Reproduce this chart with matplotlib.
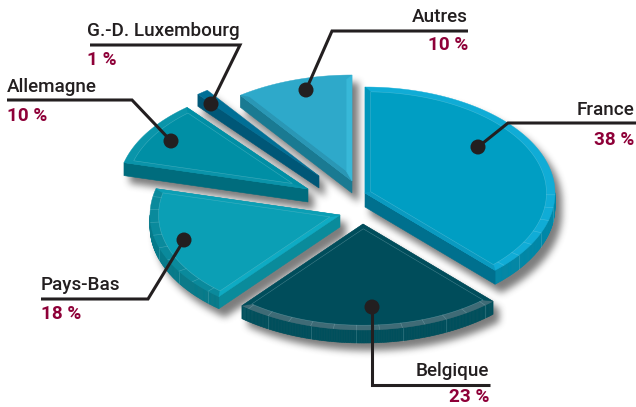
import numpy as np
import matplotlib
matplotlib.use("Agg")
import matplotlib.pyplot as plt
from matplotlib.patches import Polygon, Circle

# data
names = ["France", "Belgique", "Pays-Bas", "Allemagne", "G.-D. Luxembourg", "Autres"]
shares = [38, 23, 18, 10, 1, 10]
share_labels = ["38 %", "23 %", "18 %", "10 %", "1 %", "10 %"]

# layout, in pixels of the picture
apex_x = [365, 363, 340, 308, 319, 352]
apex_y = [193, 224, 215, 189, 176, 181]
depth = [14, 13, 12, 13, 12, 12]
RX, RY = 190, 106

# colours: top, arc band, start band, end band, arc side, radial side
colours = [
    ["#009ec3", "#10acd6", "#0096ba", "#0a9ac0", "#0088a8", "#00708e"],
    ["#004d5b", "#3f6b76", "#004d5b", "#004d5b", "#004f5c", "#004f5c"],
    ["#0b9fb5", "#0a8a9c", "#0eabc3", "#0b9fb5", "#067a8a", "#0a8b9b"],
    ["#008fa5", "#0a95aa", "#0a93a9", "#008fa5", "#00899e", "#006c7d"],
    ["#006f96", "#006f96", "#006f96", "#006f96", "#005f80", "#005777"],
    ["#2ea9ca", "#2ea9ca", "#2a97b5", "#38b8d8", "#1a7a92", "#1a7a92"],
]

# leader lines: dot, elbow, end, then text
dots = [(478, 147), (372, 307), (184, 240), (171, 141), (211, 104), (306, 90)]
elbows = [(508, 123), (372, 385), (148, 299), (132, 100), (240, 45), (332, 31)]
ends = [(636, 123), (490, 385), (41, 299), (7, 100), (90, 45), (468, 31)]
label_x = [634, 489, 41, 7, 87, 468]
label_y = [110, 371, 285, 87, 31, 17]
value_y = [140, 397, 314, 116, 60, 45]
aligns = ["right", "right", "left", "left", "left", "right"]

INK = "#231f20"
WINE = "#8e0038"
LINE = (0.75, 0.9, 0.93, 0.3)
plt.rcParams["font.family"] = ["Roboto", "DejaVu Sans"]


def to_px(u, cx, cy):
    return np.column_stack([cx + RX * u[:, 0], cy + RY * u[:, 1]])


def arc(t0, t1, r=1.0):
    t = np.radians(np.linspace(t0, t1, max(int(t1 - t0) * 2, 4)))
    return np.column_stack([r * np.sin(t), -r * np.cos(t)])


def inner_arc(t0, t1, apex, r):
    # rays from the shifted apex up to a circle of radius r
    t = np.radians(np.linspace(t0, t1, max(int(t1 - t0) * 2, 4)))
    d = np.column_stack([np.sin(t), -np.cos(t)])
    b = (d * apex).sum(axis=1)
    s = -b + np.sqrt(b ** 2 - (apex ** 2).sum() + r ** 2)
    return apex + d * s[:, None]


def blur(a, size, passes=3):
    kernel = np.ones(size) / size
    for _ in range(passes):
        a = np.apply_along_axis(lambda v: np.convolve(v, kernel, mode="same"), 0, a)
        a = np.apply_along_axis(lambda v: np.convolve(v, kernel, mode="same"), 1, a)
    return a


starts = np.cumsum([0] + shares[:-1]) * 3.6
stops = np.cumsum(shares) * 3.6

# shadow mask drawn on a scratch figure, then blurred
sfig = plt.figure(figsize=(6.36, 4.07), dpi=100)
sax = sfig.add_axes([0, 0, 1, 1])
sax.set_xlim(0, 636)
sax.set_ylim(407, 0)
sax.axis("off")
for i in range(len(shares)):
    top = to_px(np.vstack([[0, 0], arc(starts[i], stops[i])]), apex_x[i], apex_y[i])
    for dy in np.arange(0, depth[i] + 1, 2):
        sax.add_patch(Polygon(top + [6, 8 + dy], closed=True, fc="k", ec="k", lw=1))
sfig.canvas.draw()
mask = 1 - np.asarray(sfig.canvas.buffer_rgba())[:, :, 0] / 255
plt.close(sfig)
mask = blur(mask, 7)

fig = plt.figure(figsize=(6.36, 4.07), dpi=100)
ax = fig.add_axes([0, 0, 1, 1])
shadow = np.zeros(mask.shape + (4,))
shadow[:, :, :3] = 0.25
shadow[:, :, 3] = mask * 0.68
ax.imshow(shadow, extent=(0, 636, 407, 0), interpolation="nearest", aspect="auto", zorder=1)
ax.set_xlim(0, 636)
ax.set_ylim(407, 0)
ax.axis("off")

for i in range(len(shares)):
    cx, cy = apex_x[i], apex_y[i]
    h = depth[i]
    t0, t1 = starts[i], stops[i]
    c_top, c_arc, c_start, c_end, c_aside, c_rside = colours[i]
    outer = arc(t0, t1)
    top = to_px(np.vstack([[0, 0], outer]), cx, cy)

    # sides: only edges that run leftwards on screen face the viewer
    loop = np.vstack([top, top[:1]])
    for k in range(len(loop) - 1):
        p, q = loop[k], loop[k + 1]
        if q[0] < p[0]:
            radial = k == 0 or k == len(loop) - 2
            col = c_rside if radial else c_aside
            ax.add_patch(Polygon([p, q, q + [0, h], p + [0, h]], closed=True,
                                 fc=col, ec=col, lw=0.4, zorder=3))

    # block lines on the outer wall
    if i < 3:
        for a in np.arange(np.ceil(t0 / 14) * 14, t1, 14):
            if 95 < a < 265:
                x = cx + RX * np.sin(np.radians(a))
                y = cy - RY * np.cos(np.radians(a))
                ax.plot([x, x], [y, y + h], color=LINE, lw=0.4, zorder=4)

    ax.add_patch(Polygon(top, closed=True, fc=c_arc, ec=c_arc, lw=0.3, zorder=5))

    if shares[i] > 1:
        half = np.radians((t1 - t0) / 2)
        mid = np.radians((t0 + t1) / 2)
        shift = 0.03 / np.sin(min(half, np.pi / 2))
        apex2 = np.array([np.sin(mid), -np.cos(mid)]) * shift
        inner = inner_arc(t0, t1, apex2, 0.955)
        ring_in = to_px(inner, cx, cy)
        a2 = to_px(apex2[None, :], cx, cy)[0]
        ax.add_patch(Polygon([top[0], top[1], ring_in[0], a2], closed=True,
                             fc=c_start, ec=c_start, lw=0.3, zorder=6))
        ax.add_patch(Polygon([top[0], top[-1], ring_in[-1], a2], closed=True,
                             fc=c_end, ec=c_end, lw=0.3, zorder=6))
        ax.add_patch(Polygon(np.vstack([a2, ring_in]), closed=True, fc=c_top,
                             ec=LINE if i != 5 else "none", lw=0.4, zorder=7))
        if i < 3:
            for a in np.arange(np.ceil(t0 / 7) * 7, t1, 7):
                if a > 90:
                    u = np.array([[np.sin(np.radians(a)), -np.cos(np.radians(a))]])
                    seg = np.vstack([to_px(u, cx, cy), to_px(u * 0.955, cx, cy)])
                    ax.plot(seg[:, 0], seg[:, 1], color=LINE, lw=0.4, zorder=8)

# leaders and labels
for i in range(len(names)):
    xs = [dots[i][0], elbows[i][0], ends[i][0]]
    ys = [dots[i][1], elbows[i][1], ends[i][1]]
    ax.plot(xs, ys, color=INK, lw=2.2, solid_joinstyle="miter", solid_capstyle="butt", zorder=10)
    ax.add_patch(Circle(dots[i], 7.5, fc=INK, ec="none", zorder=11))
    ax.text(label_x[i], label_y[i], names[i], ha=aligns[i], va="center", color=INK,
            fontsize=13.6, fontweight="medium", zorder=12)
    ax.text(label_x[i], value_y[i], share_labels[i], ha=aligns[i], va="center", color=WINE,
            fontsize=13.6, fontweight="bold", zorder=12)

fig.savefig("out.png", dpi=100)
